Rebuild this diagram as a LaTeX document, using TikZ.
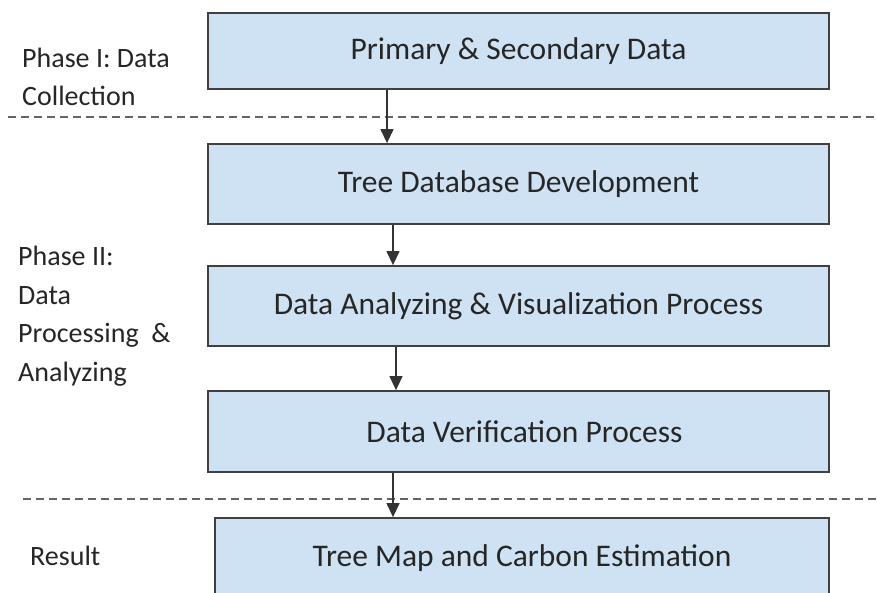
\documentclass[tikz,border=0pt]{standalone}
\usepackage{fontspec}
\setmainfont{Carlito}
\usetikzlibrary{arrows.meta}
\definecolor{boxfill}{RGB}{207,226,243}
\definecolor{boxline}{RGB}{64,64,64}
\definecolor{dashcol}{RGB}{100,100,100}
\begin{document}
\begin{tikzpicture}[x=1pt,y=-1pt,
  stage/.style={draw=boxline, line width=1.8pt, fill=boxfill, rectangle, minimum width=621pt, inner sep=0pt, font=\fontsize{31.5}{36}\selectfont, text=black!85},
  phase/.style={anchor=west, align=left, font=\fontsize{28}{38.5}\selectfont, text=black!85, inner sep=0pt},
  flow/.style={line width=1.3pt, black!80, -{Triangle[width=13pt,length=14pt]}},
  sep/.style={dashcol, line width=1.5pt, dash pattern=on 8pt off 5pt}]
\useasboundingbox (0,0) rectangle (877,593);
\clip (0,0) rectangle (877,593);
\fill[white] (0,0) rectangle (877,593);
\node[stage, minimum height=76pt] (b1) at (518.5,51) {Primary \& Secondary Data};
\node[stage, minimum height=80pt] (b2) at (518.5,184) {Tree Database Development};
\node[stage, minimum height=80pt] (b3) at (518.5,306) {Data Analyzing \& Visualization Process};
\node[stage, minimum height=81pt] (b4) at (518.5,431.5) {\hspace*{12pt}Data Verification Process};
\node[stage, minimum width=614pt, minimum height=80pt] (b5) at (522,558) {Tree Map and Carbon Estimation};
\node[phase] (p1) at (22,77) {Phase I: Data\\Collection};
\node[phase] (p2) at (18,316) {Phase II:\\Data\\Processing \ \&\\Analyzing};
\node[phase] (p3) at (30,556) {Result};
\coordinate (d1a) at (8,117);
\coordinate (d1b) at (877,117);
\coordinate (d2a) at (23,499);
\coordinate (d2b) at (877,499);
\draw[sep] (d1a) -- (d1b);
\draw[sep] (d2a) -- (d2b);
\draw[flow] (b1.south -| 387,0) -- (b2.north -| 387,0);
\draw[flow] (b2.south -| 393,0) -- (b3.north -| 393,0);
\draw[flow] (b3.south -| 396,0) -- (b4.north -| 396,0);
\draw[flow] (b4.south -| 393,0) -- (b5.north -| 393,0);
\end{tikzpicture}
\end{document}
